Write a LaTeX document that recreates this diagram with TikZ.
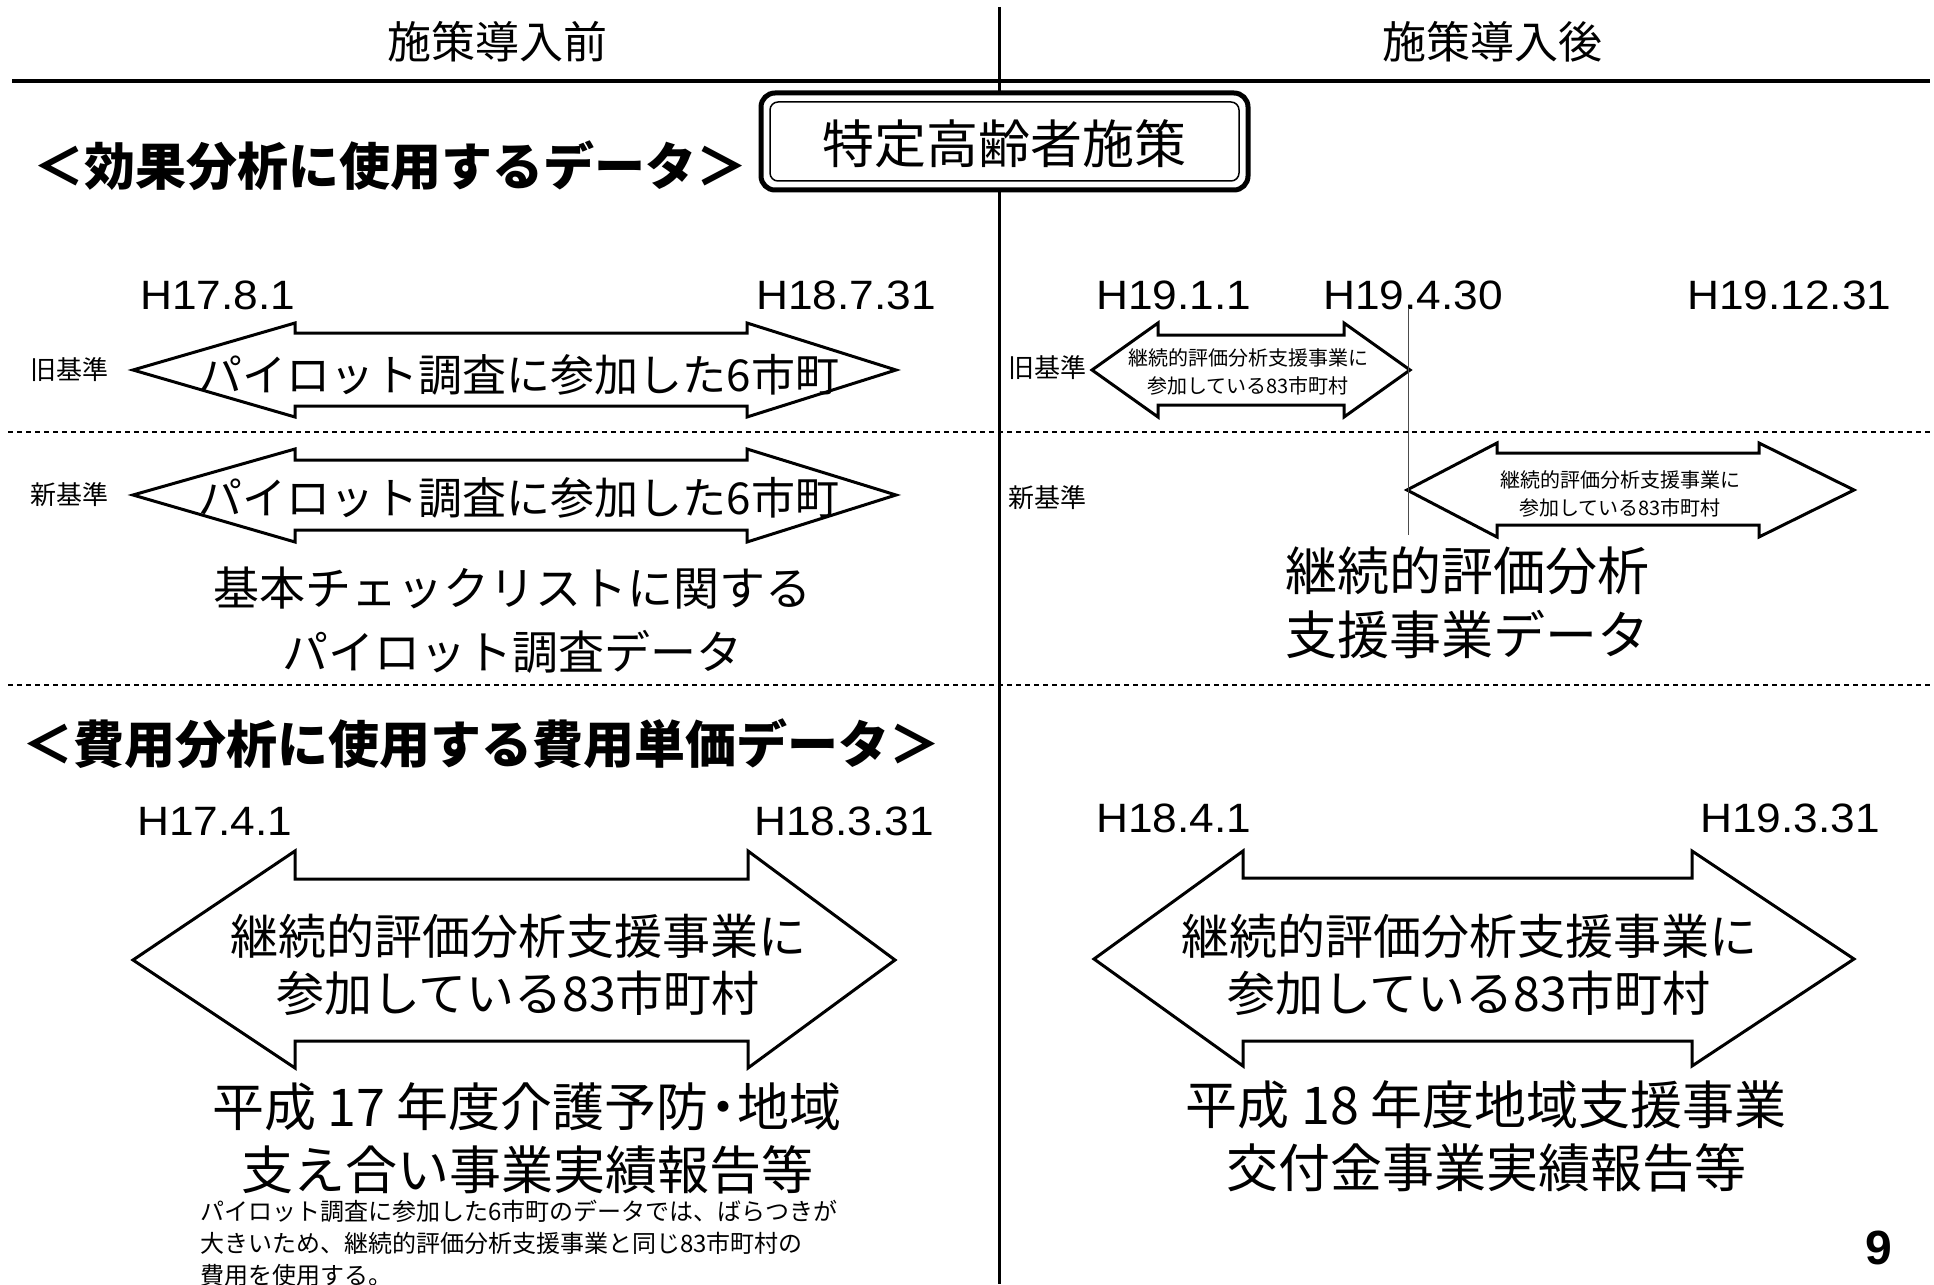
\documentclass[tikz,border=0pt]{standalone}
\usepackage{fontspec}
\setmainfont{Noto Sans CJK JP}
\newfontfamily\latinfont[FakeStretch=1.08]{Liberation Sans}
\newfontfamily\pagefont{Liberation Sans}
\newcommand{\fsz}[2]{\fontsize{#1}{#2}\selectfont}
% double-headed block arrow: x0 xi xj x1 yc headtop shafttop shaftbottom headbottom
\newcommand{\dblarr}[9]{%
  \draw[blockarrow] (#1,#5) -- (#2,#6) -- (#2,#7) -- (#3,#7) -- (#3,#6) -- (#4,#5)
    -- (#3,#9) -- (#3,#8) -- (#2,#8) -- (#2,#9) -- cycle;}
\tikzset{
  blockarrow/.style={draw=black, line width=3pt, fill=white, line join=miter},
  dotline/.style={line width=2pt, dash pattern=on 5pt off 4pt},
  hdr/.style={inner sep=0pt, font=\fsz{44}{52}},
  heading/.style={inner sep=0pt, anchor=west, font=\bfseries\fsz{51}{60}},
  datelbl/.style={inner sep=0pt, anchor=west, font=\latinfont\fsz{41}{48}},
  crit/.style={inner sep=0pt, font=\fsz{26}{30}},
  bigtxt/.style={inner sep=0pt, align=center, font=\fsz{44}{52}},
  smalltxt/.style={inner sep=0pt, align=center, font=\fsz{20}{28}},
  midtxt/.style={inner sep=0pt, align=center, font=\fsz{48}{57}},
  datatxt/.style={inner sep=0pt, align=center},
}
\begin{document}
\begin{tikzpicture}[x=1pt,y=-1pt]
\useasboundingbox (0,0) rectangle (1934,1284);
\fill[white] (0,0) rectangle (1934,1284);
\clip (0,0) rectangle (1934,1284);

% frame lines
\draw[line width=3pt] (999,7) -- (999,1284);
\draw[line width=4pt] (12,81) -- (1930,81);
\draw[dotline] (8,432) -- (1934,432);
\draw[dotline] (8,685) -- (1934,685);

% column headers
\node[hdr] (before) at (497,42) {施策導入前};
\node[hdr] (after) at (1492,42) {施策導入後};

% policy box
\draw[line width=5pt, rounded corners=14pt, fill=white] (761,93) rectangle (1248,190);
\draw[line width=1.5pt, rounded corners=8pt] (770,102) rectangle (1239,181);
\node[inner sep=0pt, font=\fsz{52}{60}] (policy) at (1004,144) {特定高齢者施策};

% section headings
\node[heading] (effect) at (33,166) {＜効果分析に使用するデータ＞};
\node[heading] (cost) at (22,744) {＜費用分析に使用する費用単価データ＞};

% dates (effect)
\node[datelbl] (d1) at (140,295) {H17.8.1};
\node[datelbl] (d2) at (756,295) {H18.7.31};
\node[datelbl] (d3) at (1096,295) {H19.1.1};
\node[datelbl] (d4) at (1323,295) {H19.4.30};
\node[datelbl] (d5) at (1687,295) {H19.12.31};
% dates (cost)
\node[datelbl] (d6) at (137,821) {H17.4.1};
\node[datelbl] (d7) at (754,821) {H18.3.31};
\node[datelbl] (d8) at (1096,818) {H18.4.1};
\node[datelbl] (d9) at (1700,818) {H19.3.31};

% criteria labels
\node[crit] (oldL) at (69,370) {旧基準};
\node[crit] (newL) at (69,495) {新基準};
\node[crit] (oldR) at (1047,368) {旧基準};
\node[crit] (newR) at (1047,498) {新基準};

% arrows
\dblarr{133}{295}{747}{896}{370}{323}{333}{406}{417}
\dblarr{133}{295}{747}{896}{495}{449}{460}{530}{542}
\dblarr{1092}{1158}{1344}{1410}{370}{323}{335}{405}{417}
\dblarr{1407}{1497}{1759}{1854}{490}{443}{453}{525}{537}
\dblarr{133}{295}{748}{895}{960}{851}{879}{1041}{1068}
\dblarr{1094}{1243}{1692}{1854}{959}{851}{878}{1041}{1066}

% cut-off line at H19.4.30
\coordinate (cutTop) at (1408,308);
\coordinate (cutBot) at (1408,535);
\draw[line width=1pt, black!70] (cutTop) -- (cutBot);

% arrow texts
\node[bigtxt] (a1) at (519,375) {パイロット調査に参加した6市町};
\node[bigtxt] (a2) at (519,498) {パイロット調査に参加した6市町};
\node[smalltxt] (a3) at (1248,372) {継続的評価分析支援事業に\\参加している83市町村};
\node[smalltxt] (a4) at (1620,494) {継続的評価分析支援事業に\\参加している83市町村};
\node[midtxt] (a5) at (518,965) {継続的評価分析支援事業に\\参加している83市町村};
\node[midtxt] (a6) at (1469,965) {継続的評価分析支援事業に\\参加している83市町村};

% data source texts
\node[datatxt, font=\fsz{46}{64}] (src1) at (512,620) {基本チェックリストに関する\\パイロット調査データ};
\node[datatxt, font=\fsz{52}{64}] (src2) at (1467,603) {継続的評価分析\\支援事業データ};
\node[datatxt, font=\fsz{52}{63}] (src3) at (527,1138) {平成\kern0.22em17\kern0.22em年度介護予防\kern-0.22em・\kern-0.22em地域\\支え合い事業実績報告等};
\node[datatxt, font=\fsz{52}{63}] (src4) at (1486,1136) {平成\kern0.22em18\kern0.22em年度地域支援事業\\交付金事業実績報告等};

% note
\node[inner sep=0pt, anchor=north west, align=left, font=\fsz{24}{32}] (note) at (200,1200)
  {パイロット調査に参加した6市町のデータでは、ばらつきが\\大きいため、継続的評価分析支援事業と同じ83市町村の\\費用を使用する。};

% page number
\node[inner sep=0pt, font=\pagefont\bfseries\fsz{48}{56}] (page) at (1879,1248) {9};
\end{tikzpicture}
\end{document}
